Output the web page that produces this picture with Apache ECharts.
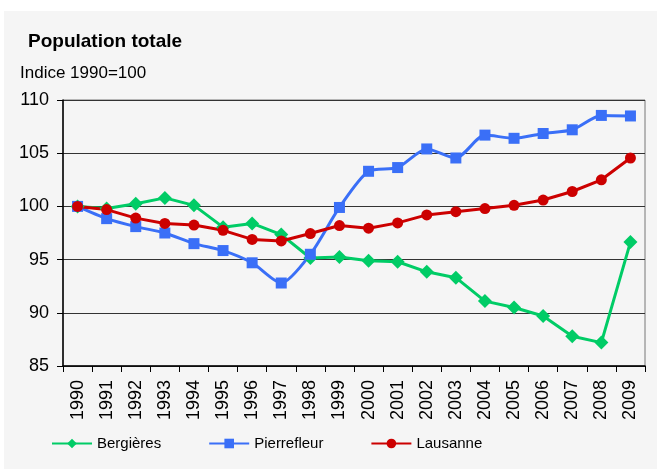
<!DOCTYPE html>
<html>
<head>
<meta charset="utf-8">
<script src="https://cdn.jsdelivr.net/npm/echarts@6/dist/echarts.min.js"></script>
<style>
  html, body { margin: 0; padding: 0; background: #ffffff; }
  #chart { width: 657px; height: 469px; }
</style>
</head>
<body>
<div id="chart"></div>
<script>
// années
const years = ['1990', '1991', '1992', '1993', '1994', '1995', '1996', '1997', '1998', '1999',
  '2000', '2001', '2002', '2003', '2004', '2005', '2006', '2007', '2008', '2009'];
// indice 1990=100
const bergieres = [100, 99.8, 100.25, 100.8, 100.1, 98.05, 98.4, 97.35, 95.15, 95.25,
  94.9, 94.8, 93.85, 93.3, 91.1, 90.5, 89.7, 87.8, 87.2, 96.65];
const pierrefleur = [100, 98.85, 98.1, 97.5, 96.5, 95.85, 94.7, 92.8, 95.5, 99.9,
  103.3, 103.65, 105.4, 104.55, 106.7, 106.4, 106.85, 107.2, 108.55, 108.5];
const lausanne = [100, 99.7, 98.9, 98.4, 98.25, 97.75, 96.9, 96.75, 97.45, 98.2,
  97.95, 98.45, 99.2, 99.5, 99.8, 100.1, 100.6, 101.4, 102.5, 104.55];

const font = '"Liberation Sans", Arial, sans-serif';

const chart = echarts.init(document.getElementById('chart'));

function lineSeries(name, data, color, symbol, size) {
  return {
    name: name,
    type: 'line',
    data: data,
    symbol: symbol,
    symbolSize: size,
    showAllSymbol: true,
    color: color,
    lineStyle: { color: color, width: 3 },
    itemStyle: { color: color },
    z: 3
  };
}

chart.setOption({
  animation: false,
  textStyle: { fontFamily: font },
  graphic: [{
    type: 'rect',
    shape: { x: 4, y: 11, width: 653, height: 458 },
    style: { fill: '#f5f5f5' },
    z: -10
  }],
  title: [{
    text: 'Population totale',
    left: 23,
    top: 27,
    textStyle: { fontFamily: font, fontSize: 19, fontWeight: 'bold', color: '#000' }
  }, {
    text: 'Indice 1990=100',
    left: 15,
    top: 60,
    textStyle: { fontFamily: font, fontSize: 17, fontWeight: 'normal', color: '#000' }
  }],
  legend: {
    left: 46,
    top: 431,
    itemWidth: 40,
    itemHeight: 12,
    itemGap: 47,
    textStyle: { fontFamily: font, fontSize: 15, color: '#000' },
    data: ['Bergières', 'Pierrefleur', 'Lausanne']
  },
  grid: {
    left: 63,
    right: 12,
    top: 100,
    bottom: 103,
    show: true,
    borderColor: '#777',
    borderWidth: 1
  },
  xAxis: {
    type: 'category',
    data: years,
    boundaryGap: true,
    axisLine: { lineStyle: { color: '#000', width: 1.5 } },
    axisTick: { show: true, inside: false, length: 6, alignWithLabel: false, lineStyle: { color: '#000' } },
    axisLabel: { rotate: 90, margin: 14, fontSize: 18, color: '#000', fontFamily: font },
    splitLine: { show: false }
  },
  yAxis: {
    type: 'value',
    min: 85,
    max: 110,
    interval: 5,
    axisLine: { show: true, lineStyle: { color: '#000', width: 1.5 } },
    axisTick: { show: true, inside: false, length: 6, lineStyle: { color: '#000' } },
    axisLabel: { margin: 14, fontSize: 18, color: '#000', fontFamily: font },
    splitLine: { show: true, lineStyle: { color: '#333', width: 1 } }
  },
  series: [
    lineSeries('Bergières', bergieres, '#00cc66', 'diamond', 14),
    Object.assign(lineSeries('Pierrefleur', pierrefleur, '#3a6ff7', 'rect', 11), { smooth: 0.25 }),
    lineSeries('Lausanne', lausanne, '#cc0000', 'circle', 11)
  ]
});
</script>
</body>
</html>
